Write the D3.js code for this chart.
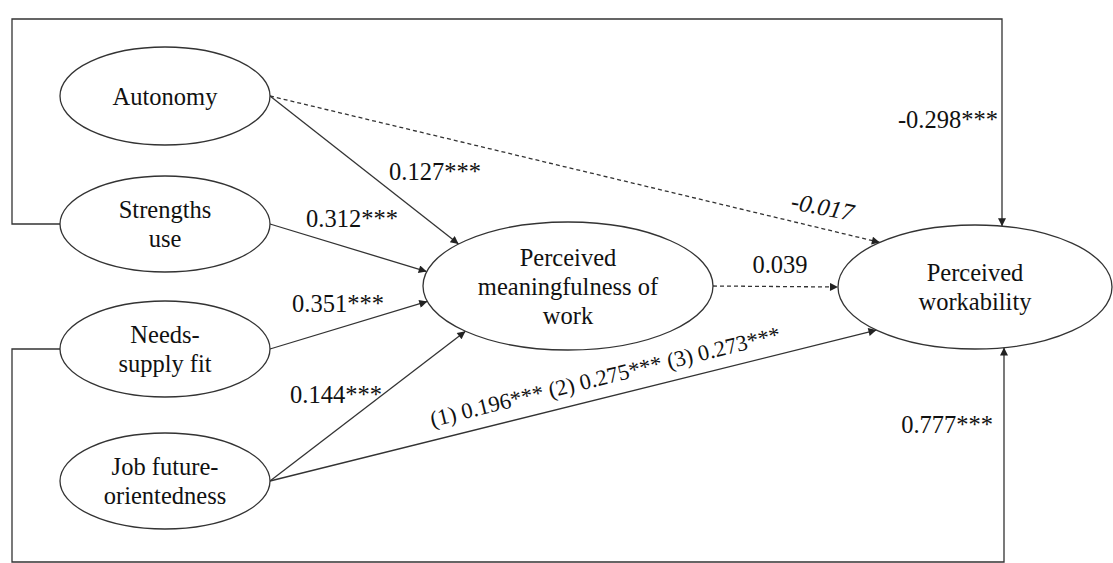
<!DOCTYPE html>
<html lang="en">
<head>
<meta charset="utf-8">
<title>Path model: perceived workability</title>
<script src="https://cdn.jsdelivr.net/npm/d3@7"></script>
<style>
  body { margin: 0; background: #fff; }
  svg text { font-family: "Liberation Serif", "Times New Roman", serif; fill: #111; }
  .node ellipse { fill: #fff; stroke: #333; stroke-width: 1.3; }
  .edge { fill: none; stroke: #333; stroke-width: 1.3; }
  .edge.ns { stroke-dasharray: 4,3; }
</style>
</head>
<body>
<svg width="1113" height="563"></svg>
<script>

// constructs (nodes) and their label lines
var nodeIds = ["aut", "str", "nsf", "jfo", "pmw", "pwa"];
var nodeLabels = [
  ["Autonomy"],
  ["Strengths", "use"],
  ["Needs-", "supply fit"],
  ["Job future-", "orientedness"],
  ["Perceived", "meaningfulness of", "work"],
  ["Perceived", "workability"]
];

// paths: source, target, coefficient text, significant?
var edgeFrom  = ["aut", "str", "nsf", "jfo", "jfo", "aut", "pmw"];
var edgeTo    = ["pmw", "pmw", "pmw", "pmw", "pwa", "pwa", "pwa"];
var edgeCoef  = ["0.127***", "0.312***", "0.351***", "0.144***",
                 "(1) 0.196*** (2) 0.275*** (3) 0.273***", "-0.017", "0.039"];
var edgeSig   = [true, true, true, true, true, false, false];

// control paths looping around the figure
var loopFrom = ["str", "nsf"];
var loopCoef = ["-0.298***", "0.777***"];

// ---- layout (positions in px) ----
var layout = {
  aut: {cx: 165, cy: 96,  rx: 105, ry: 49},
  str: {cx: 165, cy: 224, rx: 105, ry: 48},
  nsf: {cx: 165, cy: 349, rx: 105, ry: 48},
  jfo: {cx: 165, cy: 481, rx: 105, ry: 48},
  pmw: {cx: 568, cy: 286, rx: 145, ry: 64},
  pwa: {cx: 975, cy: 287, rx: 137, ry: 62}
};
// angle (deg) on target ellipse where each arrow lands
var edgeTargetAngle = [221, 193, 166, 135, 136, 226, 180];
var edgeLabelPos = [
  {x: 435, y: 180, r: 0,   a: "middle", i: false, s: 24.5},
  {x: 352, y: 227, r: 0,   a: "middle", i: false, s: 24.5},
  {x: 338, y: 312, r: 0,   a: "middle", i: false, s: 24.5},
  {x: 336, y: 403, r: 0,   a: "middle", i: false, s: 24.5},
  {x: 607, y: 384, r: -13.8, a: "middle", i: false, s: 22.5},
  {x: 821, y: 215, r: 11,  a: "middle", i: true,  s: 24.5},
  {x: 780, y: 273, r: 0,   a: "middle", i: false, s: 24.5}
];
var loopY = [19, 562], loopX = 12, loopEndX = [1002, 1004];
var loopLabelPos = [{x: 998, y: 128}, {x: 993, y: 433}];

var fontSize = 24.5, lineH = 29;
var serif = "'Liberation Serif', 'Times New Roman', serif";

var svg = d3.select("svg");

svg.append("defs").append("marker")
    .attr("id", "arrow")
    .attr("viewBox", "0 0 10 10")
    .attr("refX", 10).attr("refY", 5)
    .attr("markerWidth", 11).attr("markerHeight", 8)
    .attr("markerUnits", "userSpaceOnUse")
    .attr("orient", "auto")
  .append("path")
    .attr("d", "M0,0L10,5L0,10Z")
    .attr("fill", "#222");

function onEllipse(n, deg) {
  var t = deg * Math.PI / 180;
  return [n.cx + n.rx * Math.cos(t), n.cy + n.ry * Math.sin(t)];
}

var line = d3.line();

// loops
var loops = loopFrom.map(function(id, i) {
  var s = layout[id], tgt = layout.pwa;
  var endX = loopEndX[i];
  var dx = (endX - tgt.cx) / tgt.rx;
  var dy = Math.sqrt(Math.max(0, 1 - dx * dx)) * tgt.ry;
  var endY = i === 0 ? tgt.cy - dy : tgt.cy + dy;
  return [[s.cx - s.rx, s.cy], [loopX, s.cy], [loopX, loopY[i]], [endX, loopY[i]], [endX, endY]];
});

svg.selectAll(".loop")
  .data(loops)
  .enter().append("path")
    .attr("class", "edge loop")
    .attr("d", line)
    .attr("marker-end", "url(#arrow)");

svg.selectAll(".loop-label")
  .data(loopCoef)
  .enter().append("text")
    .attr("class", "loop-label")
    .attr("x", function(d, i) { return loopLabelPos[i].x; })
    .attr("y", function(d, i) { return loopLabelPos[i].y; })
    .attr("text-anchor", "end")
    .style("font-family", serif)
    .style("font-size", fontSize + "px")
    .text(function(d) { return d; });

// direct paths
var edges = edgeFrom.map(function(f, i) {
  var s = layout[f], t = layout[edgeTo[i]];
  return {
    pts: [onEllipse(s, 0), onEllipse(t, edgeTargetAngle[i])],
    sig: edgeSig[i], coef: edgeCoef[i], lab: edgeLabelPos[i]
  };
});

svg.selectAll(".direct")
  .data(edges)
  .enter().append("path")
    .attr("class", function(d) { return "edge direct" + (d.sig ? "" : " ns"); })
    .attr("d", function(d) { return line(d.pts); })
    .attr("marker-end", "url(#arrow)");

svg.selectAll(".coef")
  .data(edges)
  .enter().append("text")
    .attr("class", "coef")
    .attr("text-anchor", function(d) { return d.lab.a; })
    .attr("transform", function(d) {
      return "translate(" + d.lab.x + "," + d.lab.y + ") rotate(" + d.lab.r + ")";
    })
    .style("font-family", serif)
    .style("font-size", function(d) { return d.lab.s + "px"; })
    .style("font-style", function(d) { return d.lab.i ? "italic" : "normal"; })
    .text(function(d) { return d.coef; });

// nodes
var nodes = svg.selectAll(".node")
  .data(nodeIds)
  .enter().append("g")
    .attr("class", "node")
    .attr("transform", function(d) { return "translate(" + layout[d].cx + "," + layout[d].cy + ")"; });

nodes.append("ellipse")
    .attr("rx", function(d) { return layout[d].rx; })
    .attr("ry", function(d) { return layout[d].ry; });

nodes.each(function(d, i) {
  var lines = nodeLabels[i];
  var top = -(lines.length - 1) * lineH / 2;
  d3.select(this).selectAll("text")
    .data(lines)
    .enter().append("text")
      .attr("text-anchor", "middle")
      .attr("dominant-baseline", "central")
      .attr("y", function(l, j) { return top + j * lineH; })
      .style("font-family", serif)
      .style("font-size", fontSize + "px")
      .text(function(l) { return l; });
});

</script>
</body>
</html>
